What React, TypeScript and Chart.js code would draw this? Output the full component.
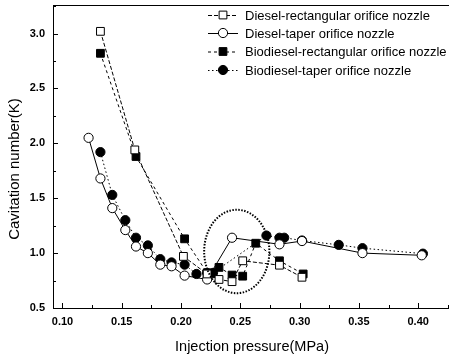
import React, { useEffect, useRef } from "react";
import { Chart, registerables } from "chart.js";

Chart.register(...registerables);

// ---- data ----
const dieselRectX = [0.132, 0.161, 0.202, 0.222, 0.232, 0.243, 0.252, 0.283, 0.302];
const dieselRectY = [3.02, 1.94, 0.97, 0.81, 0.76, 0.74, 0.93, 0.89, 0.78];

const dieselTaperX = [0.122, 0.132, 0.142, 0.153, 0.162, 0.172, 0.1825, 0.192, 0.203, 0.222, 0.243, 0.283, 0.302, 0.353, 0.403];
const dieselTaperY = [2.05, 1.68, 1.41, 1.21, 1.06, 1.0, 0.895, 0.88, 0.795, 0.76, 1.14, 1.08, 1.11, 1.0, 0.98];

const bioRectX = [0.132, 0.162, 0.203, 0.222, 0.232, 0.243, 0.252, 0.263, 0.283, 0.303];
const bioRectY = [2.82, 1.88, 1.13, 0.82, 0.87, 0.8, 0.79, 1.09, 0.93, 0.81];

const bioTaperX = [0.132, 0.142, 0.153, 0.162, 0.172, 0.1825, 0.192, 0.203, 0.213, 0.222, 0.227, 0.272, 0.283, 0.287, 0.302, 0.333, 0.353, 0.404];
const bioTaperY = [1.92, 1.53, 1.3, 1.14, 1.07, 0.945, 0.915, 0.895, 0.81, 0.82, 0.82, 1.16, 1.14, 1.14, 1.115, 1.075, 1.045, 0.995];

const seriesLabels = [
  "Diesel-rectangular orifice nozzle",
  "Diesel-taper orifice nozzle",
  "Biodiesel-rectangular orifice nozzle",
  "Biodiesel-taper orifice nozzle",
];

const xMajorTicks = [0.1, 0.15, 0.2, 0.25, 0.3, 0.35, 0.4];
const xMinorTicks = [0.125, 0.175, 0.225, 0.275, 0.325, 0.375, 0.425];
const yMajorTicks = [0.5, 1.0, 1.5, 2.0, 2.5, 3.0];
const yMinorTicks = [0.75, 1.25, 1.75, 2.25, 2.75, 3.25];

// highlighted region (dotted ellipse), in data units
const ellipseCenter = [0.247, 1.015];
const ellipseRadius = [0.0275, 0.38];

const FONT = "'Liberation Sans', Arial, sans-serif";

const toPoints = (xs: number[], ys: number[]) => xs.map((x, i) => ({ x, y: ys[i] }));

const styles = [
  { pointStyle: "rect", radius: 5.5, fill: "#ffffff", dash: [4, 2] },
  { pointStyle: "circle", radius: 4.6, fill: "#ffffff", dash: [] },
  { pointStyle: "rect", radius: 5.5, fill: "#000000", dash: [3, 3] },
  { pointStyle: "circle", radius: 4.6, fill: "#000000", dash: [1.5, 2.5] },
];

const zeroPad = (s: any) => {
  s.paddingTop = 0;
  s.paddingBottom = 0;
  s.paddingLeft = 0;
  s.paddingRight = 0;
};

const decorPlugin = {
  id: "decor",
  afterDraw(chart: any) {
    const ctx = chart.ctx as CanvasRenderingContext2D;
    const { left, right, top, bottom } = chart.chartArea;
    const xs = chart.scales.x;
    const ys = chart.scales.y;
    ctx.save();
    ctx.strokeStyle = "#000";
    ctx.lineWidth = 1;
    ctx.setLineDash([]);
    // top frame line
    ctx.beginPath();
    ctx.moveTo(left, top + 0.5);
    ctx.lineTo(right, top + 0.5);
    ctx.stroke();
    // inward ticks
    ctx.beginPath();
    xMajorTicks.forEach((v) => {
      const p = Math.round(xs.getPixelForValue(v)) + 0.5;
      ctx.moveTo(p, bottom);
      ctx.lineTo(p, bottom - 5);
    });
    xMinorTicks.forEach((v) => {
      const p = Math.round(xs.getPixelForValue(v)) + 0.5;
      if (p < right) {
        ctx.moveTo(p, bottom);
        ctx.lineTo(p, bottom - 3);
      }
    });
    yMajorTicks.forEach((v) => {
      const p = Math.round(ys.getPixelForValue(v)) + 0.5;
      ctx.moveTo(left, p);
      ctx.lineTo(left + 5, p);
    });
    yMinorTicks.forEach((v) => {
      const p = Math.round(ys.getPixelForValue(v)) + 0.5;
      if (p > top) {
        ctx.moveTo(left, p);
        ctx.lineTo(left + 3, p);
      }
    });
    ctx.stroke();

    // dotted ellipse
    const cx = xs.getPixelForValue(ellipseCenter[0]);
    const cy = ys.getPixelForValue(ellipseCenter[1]);
    const rx = Math.abs(xs.getPixelForValue(ellipseCenter[0] + ellipseRadius[0]) - cx);
    const ry = Math.abs(ys.getPixelForValue(ellipseCenter[1] + ellipseRadius[1]) - cy);
    ctx.beginPath();
    ctx.setLineDash([1.5, 1.5]);
    ctx.lineWidth = 2;
    ctx.ellipse(cx, cy, rx, ry, 0, 0, Math.PI * 2);
    ctx.stroke();

    // legend
    ctx.setLineDash([]);
    ctx.lineWidth = 1;
    const rowsY = [15, 33, 51.5, 70];
    ctx.font = `13px ${FONT}`;
    ctx.fillStyle = "#000";
    ctx.textBaseline = "middle";
    ctx.textAlign = "left";
    seriesLabels.forEach((label, i) => {
      const y = rowsY[i];
      const st = styles[i];
      ctx.beginPath();
      ctx.setLineDash(st.dash);
      ctx.moveTo(208, y + 0.5);
      ctx.lineTo(238, y + 0.5);
      ctx.stroke();
      ctx.setLineDash([]);
      ctx.beginPath();
      if (st.pointStyle === "rect") {
        const s = st.radius * Math.SQRT1_2;
        ctx.rect(223 - s, y - s, 2 * s, 2 * s);
      } else {
        ctx.arc(223, y, st.radius, 0, Math.PI * 2);
      }
      ctx.fillStyle = st.fill;
      ctx.fill();
      ctx.stroke();
      ctx.fillStyle = "#000";
      ctx.fillText(label, 245, y + 1);
    });

    // axis titles
    ctx.font = `14.5px ${FONT}`;
    ctx.textAlign = "center";
    ctx.fillText("Injection pressure(MPa)", 252, 347);
    ctx.save();
    ctx.translate(15, 169);
    ctx.rotate(-Math.PI / 2);
    ctx.font = `15px ${FONT}`;
    ctx.fillText("Cavitation number(K)", 0, 0);
    ctx.restore();
    ctx.restore();
  },
};

export default function App() {
  const ref = useRef<HTMLCanvasElement | null>(null);
  useEffect(() => {
    if (!ref.current) return;
    const datasets = [
      toPoints(dieselRectX, dieselRectY),
      toPoints(dieselTaperX, dieselTaperY),
      toPoints(bioRectX, bioRectY),
      toPoints(bioTaperX, bioTaperY),
    ].map((data, i) => ({
      label: seriesLabels[i],
      data,
      showLine: true,
      borderColor: "#000",
      borderWidth: 1,
      borderDash: styles[i].dash,
      pointStyle: styles[i].pointStyle,
      pointRadius: styles[i].radius,
      pointBackgroundColor: styles[i].fill,
      pointBorderColor: "#000",
      pointBorderWidth: 1,
      backgroundColor: styles[i].fill,
    }));
    const chart = new Chart(ref.current, {
      type: "scatter",
      data: { datasets },
      options: {
        animation: false,
        responsive: false,
        maintainAspectRatio: false,
        layout: { autoPadding: false, padding: { top: 5, right: 0, left: 0, bottom: 0 } },
        plugins: { legend: { display: false }, tooltip: { enabled: false } },
        scales: {
          x: {
            type: "linear",
            min: 0.092,
            max: 0.426,
            afterFit: (s: any) => {
              s.height = 47;
              zeroPad(s);
            },
            afterBuildTicks: (s: any) => {
              s.ticks = xMajorTicks.map((v) => ({ value: v }));
            },
            grid: { display: false, drawTicks: false },
            border: { display: true, color: "#000", width: 1 },
            ticks: {
              padding: 7,
              color: "#000",
              font: { family: FONT, size: 11, weight: "bold" },
              callback: (v: any) => Number(v).toFixed(2),
              maxRotation: 0,
              autoSkip: false,
            },
          },
          y: {
            type: "linear",
            min: 0.5,
            max: 3.26,
            afterFit: (s: any) => {
              s.width = 53;
              zeroPad(s);
            },
            afterBuildTicks: (s: any) => {
              s.ticks = yMajorTicks.map((v) => ({ value: v }));
            },
            grid: { display: false, drawTicks: false },
            border: { display: true, color: "#000", width: 1 },
            ticks: {
              padding: 8,
              color: "#000",
              font: { family: FONT, size: 11, weight: "bold" },
              callback: (v: any) => Number(v).toFixed(1),
              autoSkip: false,
            },
          },
        },
      } as any,
      plugins: [decorPlugin],
    });
    return () => chart.destroy();
  }, []);
  return (
    <div style={{ position: "absolute", left: 0, top: 0, width: 449, height: 355, background: "#fff" }}>
      <canvas ref={ref} width={449} height={355} style={{ width: 449, height: 355 }} />
    </div>
  );
}
